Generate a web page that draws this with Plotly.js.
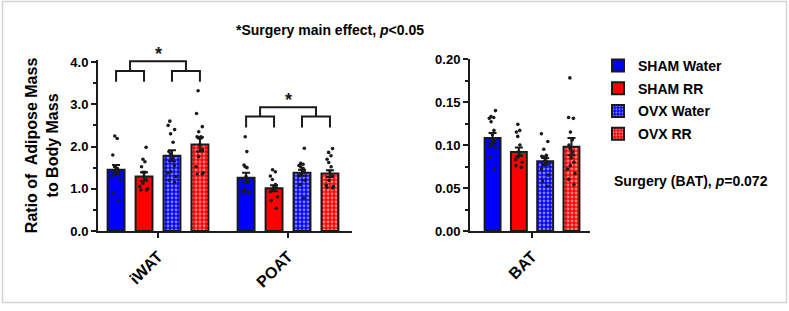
<!DOCTYPE html>
<html>
<head>
<meta charset="utf-8">
<script src="https://cdn.plot.ly/plotly-3.0.1.min.js"></script>
<style>
  html, body { margin: 0; padding: 0; background: #fff; }
  #chart { width: 789px; height: 311px; }
</style>
</head>
<body>
<div id="chart"></div>
<script>
// Treatment groups and adipose depots
const groups = ['SHAM Water', 'SHAM RR', 'OVX Water', 'OVX RR'];
const depotsLeft = ['iWAT', 'POAT'];
const depotsRight = ['BAT'];

// Group means and SEM (ratio of depot mass to body mass)
const meanIWAT = [1.45, 1.29, 1.78, 2.05];
const semIWAT  = [0.11, 0.10, 0.13, 0.17];
const meanPOAT = [1.26, 1.01, 1.38, 1.36];
const semPOAT  = [0.12, 0.07, 0.07, 0.08];
const meanBAT  = [0.108, 0.092, 0.081, 0.098];
const semBAT   = [0.006, 0.005, 0.004, 0.010];

// Individual animals
const iwatShamWater = [2.25, 2.19, 1.80, 1.52, 1.48, 1.45, 1.40, 1.35, 1.30, 1.22, 0.90, 0.72];
const iwatShamRR    = [1.98, 1.70, 1.64, 1.52, 1.39, 1.39, 1.29, 1.21, 1.13, 1.05, 1.00, 0.97, 0.97];
const iwatOvxWater  = [2.60, 2.50, 2.40, 2.30, 2.10, 1.88, 1.82, 1.76, 1.70, 1.55, 1.40, 1.37, 1.29, 1.20, 1.15];
const iwatOvxRR     = [3.32, 2.78, 2.47, 2.35, 2.23, 2.23, 2.20, 2.20, 2.04, 1.92, 1.76, 1.52, 1.38, 1.35, 1.35];
const poatShamWater = [2.23, 1.88, 1.56, 1.52, 1.50, 1.29, 1.17, 0.98, 0.95, 0.93, 0.92, 0.90];
const poatShamRR    = [1.45, 1.40, 1.30, 1.22, 1.10, 1.05, 1.02, 0.98, 0.93, 0.81, 0.72, 0.54];
const poatOvxWater  = [1.96, 1.60, 1.58, 1.55, 1.52, 1.48, 1.45, 1.40, 1.35, 1.30, 1.20, 1.10, 0.78];
const poatOvxRR     = [1.95, 1.86, 1.78, 1.70, 1.62, 1.52, 1.42, 1.30, 1.20, 1.08, 1.05, 1.03, 1.02];
const batShamWater  = [0.140, 0.133, 0.132, 0.131, 0.127, 0.117, 0.112, 0.104, 0.100, 0.098, 0.097, 0.086, 0.072];
const batShamRR     = [0.124, 0.117, 0.115, 0.110, 0.100, 0.092, 0.088, 0.086, 0.083, 0.080, 0.076, 0.074];
const batOvxWater   = [0.113, 0.104, 0.095, 0.088, 0.087, 0.086, 0.085, 0.082, 0.080, 0.077, 0.072, 0.065, 0.058, 0.052];
const batOvxRR      = [0.178, 0.132, 0.131, 0.115, 0.106, 0.100, 0.096, 0.092, 0.085, 0.080, 0.076, 0.072, 0.067, 0.060, 0.054];

const FONT = 'Arial, "Liberation Sans", sans-serif';
const INK = '#1a1a1a';
const fills = ['#0000ff', '#ff0000', '#0000ff', '#ff0000'];
const dotted = [false, false, true, true];

const SLOT = 0.215;      // spacing between bars within a depot
const BAR_W = 0.13;
const slot = si => (si - 1.5) * SLOT;

const Y_LEFT_RANGE = [0, 4.05];
const Y_LEFT_DOMAIN = [80 / 311, (311 - 59.9) / 311];

const panels = [
  { xa: 'x',  ya: 'y',  depots: depotsLeft,
    means: [meanIWAT, meanPOAT], sems: [semIWAT, semPOAT],
    points: [[iwatShamWater, iwatShamRR, iwatOvxWater, iwatOvxRR],
             [poatShamWater, poatShamRR, poatOvxWater, poatOvxRR]] },
  { xa: 'x2', ya: 'y2', depots: depotsRight,
    means: [meanBAT], sems: [semBAT],
    points: [[batShamWater, batShamRR, batOvxWater, batOvxRR]] }
];

const traces = [];
panels.forEach((p, pi) => {
  groups.forEach((g, si) => {
    const marker = { color: fills[si], line: { color: INK, width: 2 } };
    if (dotted[si]) {
      marker.pattern = { shape: '.', fillmode: 'overlay', fgcolor: '#ffffff',
                         size: 4, solidity: 0.42 };
    }
    traces.push({
      type: 'bar', name: g, xaxis: p.xa, yaxis: p.ya,
      x: p.depots.map((d, di) => di + slot(si)),
      y: p.means.map(m => m[si]),
      width: BAR_W, marker: marker,
      error_y: { type: 'data', array: p.sems.map(s => s[si]), color: INK, thickness: 2, width: 4 },
      showlegend: pi === 0, legendgroup: g, hoverinfo: 'skip'
    });
  });
  p.depots.forEach((d, di) => {
    groups.forEach((g, si) => {
      traces.push({
        type: 'box', xaxis: p.xa, yaxis: p.ya,
        x0: di + slot(si), y: p.points[di][si], width: BAR_W,
        boxpoints: 'all', jitter: 0.6, pointpos: 0,
        fillcolor: 'rgba(0,0,0,0)', line: { width: 0, color: 'rgba(0,0,0,0)' },
        marker: { color: INK, size: 3.6 },
        showlegend: false, hoverinfo: 'skip'
      });
    });
  });
});

// Surgery main-effect brackets (SHAM pair vs OVX pair) on the left panel
const brackets = [
  { depot: 0, legBottom: 3.53, low: 3.79, top: 4.02, star: 4.20 },
  { depot: 1, legBottom: 2.45, low: 2.71, top: 2.93, star: 3.11 }
];
// the star can sit above the axis range, so place it in paper units
const leftPaperY = v => Y_LEFT_DOMAIN[0] +
  (v - Y_LEFT_RANGE[0]) / (Y_LEFT_RANGE[1] - Y_LEFT_RANGE[0]) * (Y_LEFT_DOMAIN[1] - Y_LEFT_DOMAIN[0]);

const shapes = [];
const annotations = [];
brackets.forEach(b => {
  const xs = [0, 1, 2, 3].map(si => b.depot + slot(si));
  const m1 = (xs[0] + xs[1]) / 2, m2 = (xs[2] + xs[3]) / 2;
  const line = { color: INK, width: 2 };
  shapes.push({ type: 'path', xref: 'x', yref: 'y', line: line,
    path: `M${xs[0]},${b.legBottom} L${xs[0]},${b.low} L${xs[1]},${b.low} L${xs[1]},${b.legBottom}` });
  shapes.push({ type: 'path', xref: 'x', yref: 'y', line: line,
    path: `M${xs[2]},${b.legBottom} L${xs[2]},${b.low} L${xs[3]},${b.low} L${xs[3]},${b.legBottom}` });
  shapes.push({ type: 'path', xref: 'x', yref: 'y', line: line,
    path: `M${m1},${b.low} L${m1},${b.top} L${m2},${b.top} L${m2},${b.low}` });
  annotations.push({ xref: 'x', yref: 'paper', x: (m1 + m2) / 2, y: leftPaperY(b.star), text: '<b>*</b>',
    showarrow: false, font: { family: FONT, size: 18, color: INK }, yanchor: 'middle' });
});

// light frame around the figure
shapes.push({ type: 'rect', xref: 'paper', yref: 'paper',
  x0: 2.5 / 789, x1: 786.5 / 789, y0: 8.5 / 311, y1: 309.5 / 311,
  line: { color: '#d4d4d4', width: 1.5 }, layer: 'below' });

annotations.push({ xref: 'paper', yref: 'paper', x: 612 / 789, y: 1 - 181 / 311,
  xanchor: 'left', yanchor: 'middle', showarrow: false,
  text: '<b>Surgery (BAT), <i>p</i>=0.072</b>', font: { family: FONT, size: 14, color: '#000' } });

const axisCommon = {
  showline: true, linecolor: INK, linewidth: 2, zeroline: false, showgrid: false,
  ticks: 'outside', ticklen: 5, tickwidth: 2, tickcolor: INK,
  tickfont: { family: FONT, size: 13, color: '#000', weight: 'bold' }, fixedrange: true
};

const layout = {
  width: 789, height: 311,
  margin: { l: 0, r: 0, t: 0, b: 0 },
  paper_bgcolor: '#fff', plot_bgcolor: 'rgba(0,0,0,0)',
  barmode: 'overlay', boxmode: 'overlay',
  font: { family: FONT, color: '#000' },
  title: { text: '<b>*Surgery main effect, <i>p</i>&lt;0.05</b>', x: 330 / 789, xanchor: 'center',
           y: 1 - 30 / 311, yanchor: 'middle', font: { family: FONT, size: 14, color: '#000' } },
  xaxis: Object.assign({}, axisCommon, {
    domain: [98 / 789, 352 / 789], range: [-0.4615, 1.492],
    tickmode: 'array', tickvals: depotsLeft.map((d, i) => i), ticktext: depotsLeft,
    tickangle: -45, ticklabelstandoff: 3,
    tickfont: { family: FONT, size: 16, color: '#000', weight: 'bold' }
  }),
  yaxis: Object.assign({}, axisCommon, {
    domain: Y_LEFT_DOMAIN, range: Y_LEFT_RANGE,
    tickmode: 'linear', tick0: 0, dtick: 1, tickformat: '.1f',
    minor: { dtick: 0.5, ticks: 'outside', ticklen: 3, tickwidth: 2, tickcolor: INK },
    title: { text: '<b>Ratio of&nbsp; Adipose Mass<br>to Body Mass</b>', standoff: 8,
             font: { family: FONT, size: 16, color: '#000' } }
  }),
  xaxis2: Object.assign({}, axisCommon, {
    anchor: 'y2', domain: [470 / 789, 590 / 789], range: [-0.507, 0.474],
    tickmode: 'array', tickvals: [0], ticktext: depotsRight,
    tickangle: -45, ticklabelstandoff: 3,
    tickfont: { family: FONT, size: 16, color: '#000', weight: 'bold' }
  }),
  yaxis2: Object.assign({}, axisCommon, {
    anchor: 'x2', domain: [80 / 311, (311 - 59) / 311], range: [0, 0.2],
    tickmode: 'linear', tick0: 0, dtick: 0.05, tickformat: '.2f',
    minor: { dtick: 0.025, ticks: 'outside', ticklen: 3, tickwidth: 2, tickcolor: INK }
  }),
  legend: { x: 598 / 789, y: 1 - 50 / 311, xanchor: 'left', yanchor: 'top',
            traceorder: 'grouped', tracegroupgap: 1.5, bgcolor: 'rgba(0,0,0,0)',
            font: { family: FONT, size: 14, color: '#000', weight: 'bold' } },
  shapes: shapes, annotations: annotations
};

Plotly.newPlot('chart', traces, layout, { displayModeBar: false, staticPlot: true });
</script>
</body>
</html>
